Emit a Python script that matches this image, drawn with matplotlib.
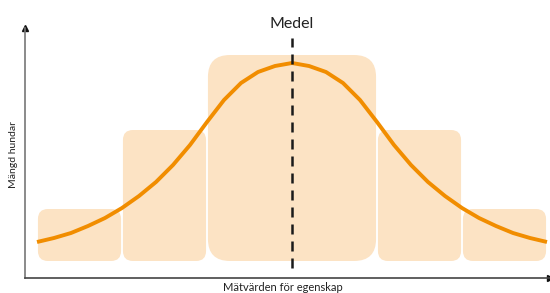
import matplotlib.pyplot as plt
from matplotlib.patches import FancyBboxPatch

# klasser (i standardavvikelser från medel) och höjd på staplarna
bin_edges = [-3, -2, -1, 1, 2, 3]
bin_heights = [69, 148, 223, 148, 69]
bin_bottom = 17

# punkter avlästa längs normalkurvan (höger halva, kurvan är symmetrisk)
half_x = [0.0, 0.2, 0.4, 0.6, 0.8, 1.0, 1.2, 1.4, 1.6, 1.8,
          2.0, 2.2, 2.4, 2.6, 2.8, 3.0]
half_y = [215, 212, 206, 195, 178, 156, 133, 113, 96, 82,
          70, 60, 52, 45, 40, 36]
curve_x = [-v for v in half_x[:0:-1]] + half_x
curve_y = half_y[:0:-1] + half_y

mean_x = 0
mean_label = "Medel"

px_per_x = 85  # pixlar per enhet på x-axeln

fig = plt.figure(figsize=(5.5, 2.93), dpi=100)
ax = fig.add_axes([25 / 550, 15 / 293, 525 / 550, 250 / 293])
ax.set_xlim(-267 / px_per_x, 258 / px_per_x)
ax.set_ylim(0, 250)

bar_color = "#FCE3C4"
gap = 0.011
for i in range(len(bin_heights)):
    left = bin_edges[i] + gap
    width = bin_edges[i + 1] - bin_edges[i] - 2 * gap
    h = bin_heights[i] - bin_bottom
    r = 22 if width > 1.5 else 10
    box = FancyBboxPatch((left, bin_bottom), width, h,
                         boxstyle="round,pad=0,rounding_size=%f" % (r / px_per_x),
                         mutation_aspect=px_per_x,
                         facecolor=bar_color, edgecolor="none", zorder=1)
    ax.add_patch(box)

ax.plot(curve_x, curve_y, color="#F18D00", lw=2.8, solid_capstyle="butt",
        solid_joinstyle="round", zorder=2)

ax.plot([mean_x, mean_x], [10, 240], color="#1a1a1a", lw=1.8,
        dashes=(4, 2.8), zorder=3)
ax.text(mean_x, 247, mean_label, ha="center", va="bottom", fontsize=11.5,
        family=["Lato", "DejaVu Sans"], color="#222222", clip_on=False)

for s in ["top", "right"]:
    ax.spines[s].set_visible(False)
ax.spines["left"].set_color("#777777")
ax.spines["bottom"].set_color("#444444")
ax.spines["left"].set_linewidth(1.2)
ax.spines["bottom"].set_linewidth(1.2)
ax.set_xticks([])
ax.set_yticks([])

# pilar
ax.plot(0, 1, "^", color="#111111", ms=5, transform=ax.transAxes, clip_on=False)
ax.plot(1, 0, ">", color="#111111", ms=5, transform=ax.transAxes, clip_on=False)

fig.text(14 / 550, 1 - 154 / 293, "Mängd hundar", rotation=90, ha="center",
         va="center", fontsize=7.5, family=["Lato", "DejaVu Sans"], color="#222222")
fig.text(283 / 550, 1 - 282 / 293, "Mätvärden för egenskap", ha="center",
         va="top", fontsize=8, family=["Lato", "DejaVu Sans"], color="#222222")

fig.savefig("out.png", dpi=100)
